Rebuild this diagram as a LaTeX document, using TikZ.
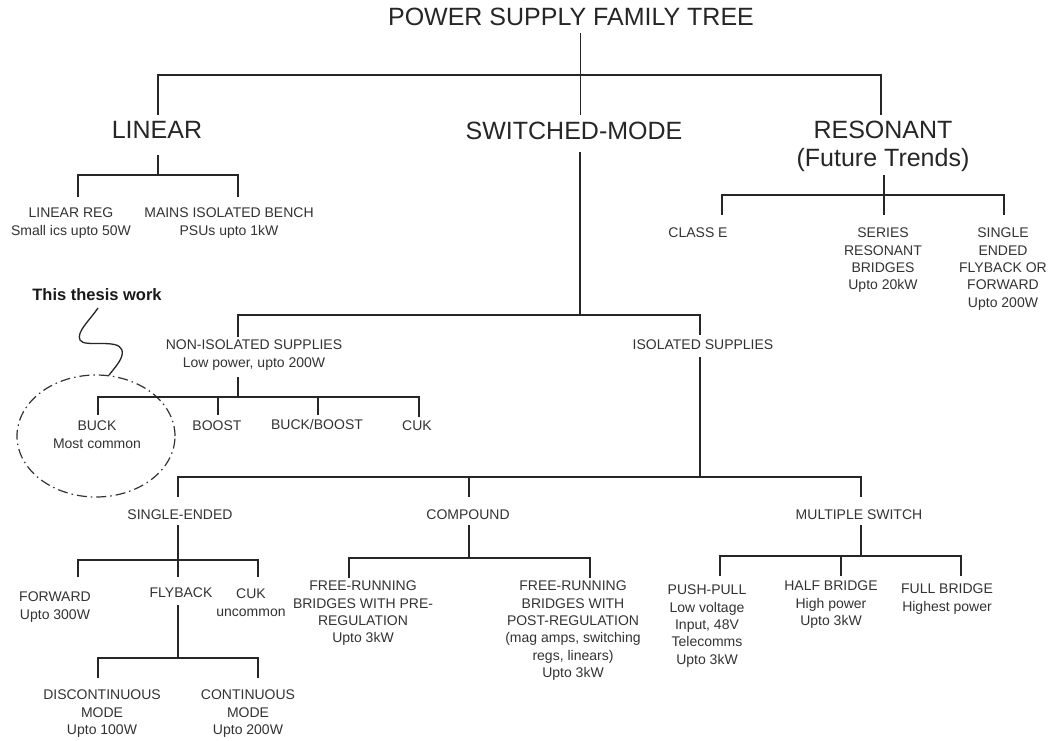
\documentclass[tikz,border=0pt]{standalone}
\usepackage{fontspec}
\setmainfont{Liberation Sans}
\usetikzlibrary{shapes.geometric}
\begin{document}
\begin{tikzpicture}[x=1pt,y=-1pt,
  conn/.style={draw=black!85, line width=1.6pt},
  thinconn/.style={draw=black!85, line width=1pt},
  txt/.style={font=\fontsize{14}{17.3}\selectfont, align=center, inner sep=0pt, text=black!80, anchor=north},
  big/.style={font=\fontsize{25}{28}\selectfont, align=center, inner sep=0pt, text=black!85, anchor=north},
  thesisbox/.style={font=\bfseries\fontsize{16.5}{19}\selectfont, inner sep=0pt, text=black!90},
  circbox/.style={ellipse, draw=black!80, line width=1.2pt, dash pattern=on 10pt off 4pt on 1.5pt off 4pt, minimum width=158pt, minimum height=122pt, inner sep=0pt}]
\fill[white] (0,0) rectangle (1052,740);
\useasboundingbox (0,0) rectangle (1052,740);

% level 0 / 1
\node[big] (title) at (571,8) {POWER SUPPLY FAMILY TREE};
\node[big] (linear) at (157,121) {LINEAR};
\node[big] (swm) at (574,122) {SWITCHED-MODE};
\node[big] (res) at (883,121) {RESONANT\\(Future Trends)};

% linear children
\node[txt] (lreg) at (71,208) {LINEAR REG\\Small ics upto 50W};
\node[txt] (mains) at (229,208) {MAINS ISOLATED BENCH\\PSUs upto 1kW};

% resonant children
\node[txt] (classe) at (698,228) {CLASS E};
\node[txt] (sres) at (883,228) {SERIES\\RESONANT\\BRIDGES\\Upto 20kW};
\node[txt] (sef) at (1003,228) {SINGLE\\ENDED\\FLYBACK OR\\FORWARD\\Upto 200W};

% switched-mode children
\node[txt] (noniso) at (254,340) {NON-ISOLATED SUPPLIES\\Low power, upto 200W};
\node[txt] (iso) at (703,340) {ISOLATED SUPPLIES};

% non-isolated children
\node[txt] (buck) at (97,421) {BUCK\\Most common};
\node[txt] (boost) at (217,421) {BOOST};
\node[txt] (bb) at (317,419) {BUCK/BOOST};
\node[txt] (cuk) at (417,421) {CUK};

% isolated children
\node[txt] (sing) at (180,510) {SINGLE-ENDED};
\node[txt] (comp) at (468,510) {COMPOUND};
\node[txt] (mult) at (859,510) {MULTIPLE SWITCH};

% single-ended children
\node[txt] (fwd) at (55,592) {FORWARD\\Upto 300W};
\node[txt] (fly) at (181,588) {FLYBACK};
\node[txt] (cukse) at (251,589) {CUK\\uncommon};

% flyback children
\node[txt] (disc) at (102,690) {DISCONTINUOUS\\MODE\\Upto 100W};
\node[txt] (cont) at (248,690) {CONTINUOUS\\MODE\\Upto 200W};

% compound children
\node[txt] (fr1) at (363,581) {FREE-RUNNING\\BRIDGES WITH PRE-\\REGULATION\\Upto 3kW};
\node[txt] (fr2) at (573,581) {FREE-RUNNING\\BRIDGES WITH\\POST-REGULATION\\(mag amps, switching\\regs, linears)\\Upto 3kW};

% multiple switch children
\node[txt] (pp) at (707,585) {PUSH-PULL\\Low voltage\\Input, 48V\\Telecomms\\Upto 3kW};
\node[txt] (hb) at (831,581) {HALF BRIDGE\\High power\\Upto 3kW};
\node[txt] (fb) at (947,584) {FULL BRIDGE\\Highest power};

% annotation
\node[thesisbox] (thesis) at (97,295) {This thesis work};
\node[circbox] (circ) at (96,436) {};

% junctions
\coordinate (jtop) at (580,75);
\coordinate (jlin) at (158,175);
\coordinate (jres) at (884,195);
\coordinate (jswm) at (580,315);
\coordinate (jni) at (238,397);
\coordinate (jiso) at (700,477);
\coordinate (jsing) at (178,560);
\coordinate (jfly) at (178,658);
\coordinate (jcomp) at (469,558);
\coordinate (jmult) at (861,556);

% connectors
\draw[thinconn] ([xshift=9pt,yshift=-25pt]title.north) -- ([xshift=6pt,yshift=7pt]swm.north);
\draw[conn] ([xshift=1pt,yshift=6pt]linear.north) |- (jtop) -| ([xshift=-2pt,yshift=6pt]res.north);

\draw[conn] ([xshift=1pt,yshift=-34pt]linear.north) -- (jlin);
\draw[conn] ([xshift=7pt,yshift=11pt]lreg.north) |- (jlin) -| ([xshift=9pt,yshift=11pt]mains.north);

\draw[conn] ([xshift=1pt,yshift=-54pt]res.north) -- ([xshift=1pt,yshift=13pt]sres.north);
\draw[conn] ([xshift=24pt,yshift=13pt]classe.north) |- (jres) -| ([xshift=1pt,yshift=13pt]sef.north);

\draw[conn] ([xshift=6pt,yshift=-30pt]swm.north) -- (jswm);
\draw[conn] ([xshift=-16pt,yshift=3pt]noniso.north) |- (jswm) -| ([xshift=-3pt,yshift=5pt]iso.north);

\draw[conn] ([xshift=-16pt,yshift=-37pt]noniso.north) -- (jni);
\draw[conn] ([xshift=1pt,yshift=6pt]buck.north) |- (jni) -| ([xshift=2pt,yshift=4pt]cuk.north);
\draw[conn] ([xshift=1pt,yshift=6pt]boost.north) |- (jni);
\draw[conn] ([xshift=1pt,yshift=4pt]bb.north) |- (jni);

\draw[conn] ([xshift=-3pt,yshift=-17pt]iso.north) -- (jiso);
\draw[conn] ([xshift=-2pt,yshift=13pt]sing.north) |- (jiso) -| ([xshift=2pt,yshift=13pt]mult.north);
\draw[conn] ([xshift=1pt,yshift=13pt]comp.north) |- (jiso);

\draw[conn] ([xshift=-2pt,yshift=-15pt]sing.north) -- ([xshift=-3pt,yshift=11pt]fly.north);
\draw[conn] ([xshift=23pt,yshift=15pt]fwd.north) |- (jsing) -| ([xshift=7pt,yshift=12pt]cukse.north);

\draw[conn] ([xshift=-3pt,yshift=-17pt]fly.north) -- (jfly);
\draw[conn] ([xshift=-4pt,yshift=12pt]disc.north) |- (jfly) -| ([xshift=10pt,yshift=12pt]cont.north);

\draw[conn] ([xshift=1pt,yshift=-15pt]comp.north) -- (jcomp);
\draw[conn] ([xshift=-14pt,yshift=3pt]fr1.north) |- (jcomp) -| ([xshift=17pt,yshift=3pt]fr2.north);

\draw[conn] ([xshift=2pt,yshift=-15pt]mult.north) -- (jmult);
\draw[conn] ([xshift=13pt,yshift=9pt]pp.north) |- (jmult) -| ([xshift=14pt,yshift=8pt]fb.north);
\draw[conn] ([xshift=10pt,yshift=5pt]hb.north) |- (jmult);

% squiggle
\draw[black!85, line width=1.3pt] ([xshift=1pt,yshift=-13pt]thesis.center) .. controls (90,320) and (76,332) .. (80,340) .. controls (84,348) and (118,338) .. (122,350) .. controls (124,358) and (116,366) .. (circ.78);
\end{tikzpicture}
\end{document}
